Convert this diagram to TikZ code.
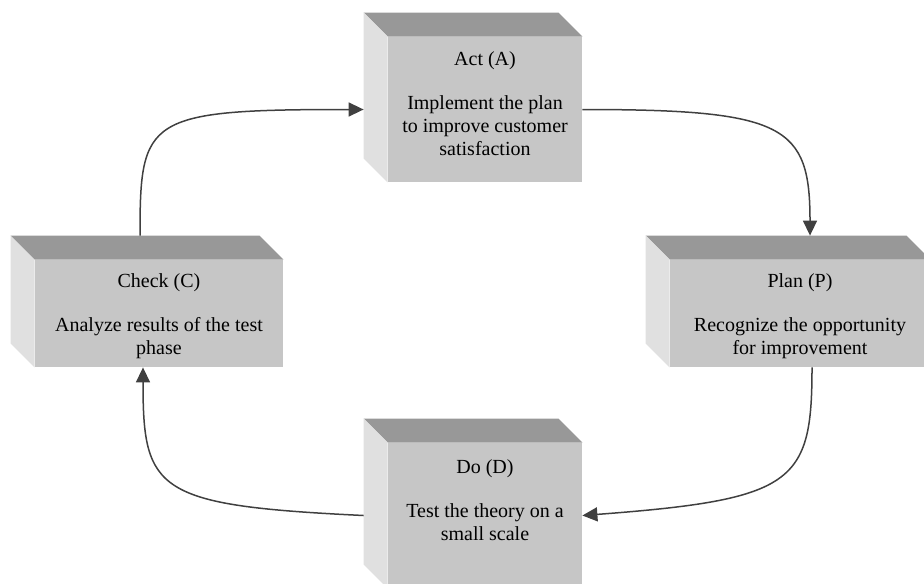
\documentclass[tikz,border=0pt]{standalone}
\usepackage{fontspec}
\setmainfont{Liberation Serif}
\usetikzlibrary{arrows.meta}

\definecolor{facefront}{RGB}{198,198,198}
\definecolor{facetop}{RGB}{152,152,152}
\definecolor{faceside}{RGB}{224,224,224}
\definecolor{linegray}{RGB}{64,64,64}

\begin{document}
\begin{tikzpicture}[x=0.5pt, y=-0.5pt,
    face/.style={fill=facefront, inner sep=0pt},
    topface/.style={fill=facetop},
    sideface/.style={fill=faceside},
    caption/.style={anchor=north, align=center, inner sep=0pt, font=\fontsize{10}{11.5}\selectfont},
    flow/.style={draw=linegray, line width=0.75pt, -{Triangle[length=7.5pt,width=7pt]}}]

    \useasboundingbox (0,0) rectangle (924,583);
    \clip (0,0) rectangle (924,583);


    \node [face, minimum width=97pt, minimum height=72.5pt] at (485,109.5) (act) {};
    \node [face, minimum width=124pt, minimum height=53.5pt] at (159,313.5) (check) {};
    \node [face, minimum width=130pt, minimum height=53.5pt] at (800,313.5) (plan) {};
    \node [face, minimum width=97pt, minimum height=72.5pt] at (485,515.5) (do) {};

    \path [topface] (act.north west) -- (act.north east) -- ([shift={(-24,-24)}]act.north east) -- ([shift={(-24,-24)}]act.north west) -- cycle;
    \path [sideface] (act.north west) -- (act.south west) -- ([shift={(-24,-24)}]act.south west) -- ([shift={(-24,-24)}]act.north west) -- cycle;
    \path [topface] (check.north west) -- (check.north east) -- ([shift={(-24,-24)}]check.north east) -- ([shift={(-24,-24)}]check.north west) -- cycle;
    \path [sideface] (check.north west) -- (check.south west) -- ([shift={(-24,-24)}]check.south west) -- ([shift={(-24,-24)}]check.north west) -- cycle;
    \path [topface] (plan.north west) -- (plan.north east) -- ([shift={(-24,-24)}]plan.north east) -- ([shift={(-24,-24)}]plan.north west) -- cycle;
    \path [sideface] (plan.north west) -- (plan.south west) -- ([shift={(-24,-24)}]plan.south west) -- ([shift={(-24,-24)}]plan.north west) -- cycle;
    \path [topface] (do.north west) -- (do.north east) -- ([shift={(-24,-24)}]do.north east) -- ([shift={(-24,-24)}]do.north west) -- cycle;
    \path [sideface] (do.north west) -- (do.south west) -- ([shift={(-24,-24)}]do.south west) -- ([shift={(-24,-24)}]do.north west) -- cycle;


    \node [caption] at ([yshift=-7.5pt]act.north) (actTxt) {Act (A)\\[10.5pt]Implement the plan\\to improve customer\\satisfaction};
    \node [caption] at ([yshift=-7pt]check.north) (checkTxt) {Check (C)\\[10.5pt]Analyze results of the test\\phase};
    \node [caption] at ([yshift=-7pt]plan.north) (planTxt) {Plan (P)\\[10.5pt]Recognize the opportunity\\for improvement};
    \node [caption] at ([yshift=-8.5pt]do.north) (doTxt) {Do (D)\\[10.5pt]Test the theory on a\\small scale};

    \coordinate (checkTop) at ([shift={(-19,-24)}]check.north);
    \coordinate (checkBot) at ([shift={(-16,0)}]check.south);
    \coordinate (actSide) at ([shift={(-24,0)}]act.west);
    \coordinate (planTop) at ([shift={(10,-24)}]plan.north);
    \coordinate (planBot) at ([shift={(12,0)}]plan.south);
    \coordinate (doSide) at ([shift={(-24,0)}]do.west);

    \draw [flow] (checkTop) .. controls +(0,-118) and +(-218,0) .. (actSide);
    \draw [flow] (act.east) .. controls +(203,0) and +(0,-110) .. (planTop);
    \draw [flow] (planBot) .. controls +(0,116) and +(212,-16) .. (do.east);
    \draw [flow] (doSide) .. controls +(-208,-10) and +(0,124) .. (checkBot);

\end{tikzpicture}
\end{document}
